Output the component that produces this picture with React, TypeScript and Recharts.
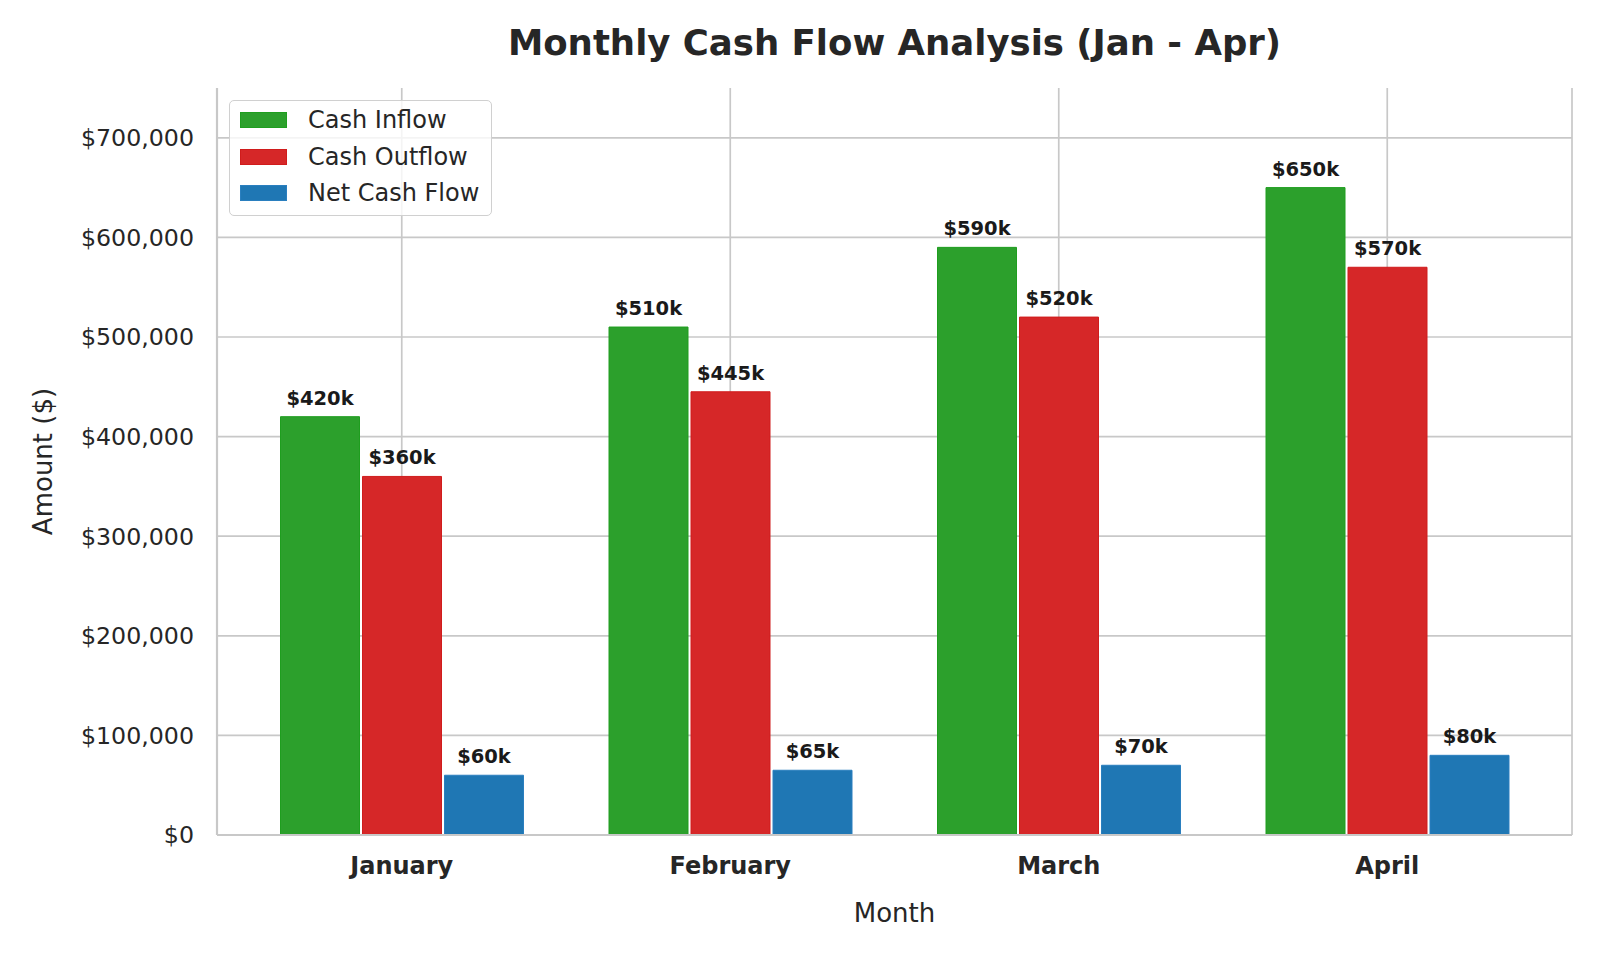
import React from 'react';
import {
  BarChart,
  Bar,
  XAxis,
  YAxis,
  CartesianGrid,
  LabelList,
} from 'recharts';

// Data
const months = ['January', 'February', 'March', 'April'];
const cashInflow = [420000, 510000, 590000, 650000];
const cashOutflow = [360000, 445000, 520000, 570000];
const netCashFlow = [60000, 65000, 70000, 80000];
const yTicks = [0, 100000, 200000, 300000, 400000, 500000, 600000, 700000];

const series = [
  { key: 'inflow', name: 'Cash Inflow', color: '#2ca02c', edge: '#1f9e1f' },
  { key: 'outflow', name: 'Cash Outflow', color: '#d62728', edge: '#d01c1c' },
  { key: 'net', name: 'Net Cash Flow', color: '#1f77b4', edge: '#2a7fbf' },
];

const data = months.map((month, i) => ({
  month,
  inflow: cashInflow[i],
  outflow: cashOutflow[i],
  net: netCashFlow[i],
}));

const FONT = '"DejaVu Sans", sans-serif';
const TEXT = '#262626';
const GRID = '#c8c8c8';

const W = 1600;
const H = 960;
const PLOT_LEFT = 217;
const PLOT_RIGHT = 1572;
const PLOT_TOP = 88;
const PLOT_BOTTOM = 835;
const Y_AXIS_W = 150;
const X_AXIS_H = 60;

const fmtDollar = (v: number) => '$' + v.toLocaleString('en-US');
const fmtK = (v: number) => '$' + Math.round(v / 1000) + 'k';

const CustomLegend = () => (
  <div
    style={{
      position: 'absolute',
      left: 229,
      top: 100,
      width: 263,
      height: 116,
      boxSizing: 'border-box',
      border: '1.5px solid #d0d0d0',
      borderRadius: 5,
      background: 'rgba(255,255,255,0.8)',
      fontFamily: FONT,
      fontSize: 24,
      color: TEXT,
    }}
  >
    {series.map((s, i) => (
      <div
        key={s.key}
        style={{ position: 'absolute', left: 0, top: 1 + i * 36.7, height: 36, display: 'flex', alignItems: 'center' }}
      >
        <span
          style={{
            display: 'inline-block',
            marginLeft: 10,
            width: 47,
            height: 16,
            background: s.color,
            border: `1px solid ${s.edge}`,
            boxSizing: 'border-box',
          }}
        />
        <span style={{ marginLeft: 21, whiteSpace: 'nowrap' }}>{s.name}</span>
      </div>
    ))}
  </div>
);

const App: React.FC = () => {
  return (
    <div style={{ position: 'absolute', left: 0, top: 0, width: W, height: H, background: '#fff', fontFamily: FONT }}>
      <BarChart
        width={W}
        height={H}
        data={data}
        margin={{
          top: PLOT_TOP,
          right: W - PLOT_RIGHT,
          left: PLOT_LEFT - Y_AXIS_W,
          bottom: H - PLOT_BOTTOM - X_AXIS_H,
        }}
        barSize={79}
        barGap={3}
      >
        <CartesianGrid stroke={GRID} strokeWidth={1.7} horizontalValues={yTicks} />
        <XAxis
          dataKey="month"
          height={X_AXIS_H}
          padding={{ left: 20.5, right: 20.5 }}
          tickLine={false}
          tickSize={0}
          tickMargin={22}
          axisLine={{ stroke: GRID, strokeWidth: 2.2 }}
          tick={{ fill: TEXT, fontSize: 24, fontWeight: 'bold', fontFamily: FONT }}
        />
        <XAxis
          xAxisId="top"
          orientation="top"
          dataKey="month"
          height={0}
          tick={false}
          tickLine={false}
          axisLine={{ stroke: GRID, strokeWidth: 2.2 }}
        />
        <YAxis
          width={Y_AXIS_W}
          domain={[0, 750000]}
          ticks={yTicks}
          tickFormatter={fmtDollar}
          tickLine={false}
          tickSize={0}
          tickMargin={23}
          axisLine={{ stroke: GRID, strokeWidth: 2.2 }}
          tick={{ fill: TEXT, fontSize: 23.7, fontFamily: FONT }}
        />
        <YAxis
          yAxisId="right"
          orientation="right"
          width={0}
          domain={[0, 750000]}
          tick={false}
          tickLine={false}
          axisLine={{ stroke: GRID, strokeWidth: 2.2 }}
        />
        {series.map((s) => (
          <Bar
            key={s.key}
            dataKey={s.key}
            name={s.name}
            fill={s.color}
            stroke={s.edge}
            strokeWidth={1}
            isAnimationActive={false}
          >
            <LabelList
              dataKey={s.key}
              position="top"
              offset={12}
              formatter={(v: any) => fmtK(Number(v))}
              style={{ fill: '#1a1a1a', fontSize: 19.5, fontWeight: 'bold', fontFamily: FONT }}
            />
          </Bar>
        ))}
      </BarChart>

      <CustomLegend />

      <svg
        width={W}
        height={H}
        style={{ position: 'absolute', left: 0, top: 0, pointerEvents: 'none' }}
      >
        <text
          x={(PLOT_LEFT + PLOT_RIGHT) / 2}
          y={55}
          textAnchor="middle"
          fontFamily={FONT}
          fontSize={35.5}
          fontWeight="bold"
          fill={TEXT}
        >
          Monthly Cash Flow Analysis (Jan - Apr)
        </text>
        <text
          x={(PLOT_LEFT + PLOT_RIGHT) / 2}
          y={922.3}
          textAnchor="middle"
          fontFamily={FONT}
          fontSize={26}
          fill={TEXT}
        >
          Month
        </text>
        <text
          x={52}
          y={(PLOT_TOP + PLOT_BOTTOM) / 2}
          textAnchor="middle"
          fontFamily={FONT}
          fontSize={26}
          fill={TEXT}
          transform={`rotate(-90, 52, ${(PLOT_TOP + PLOT_BOTTOM) / 2})`}
        >
          Amount ($)
        </text>
      </svg>
    </div>
  );
};

export default App;
